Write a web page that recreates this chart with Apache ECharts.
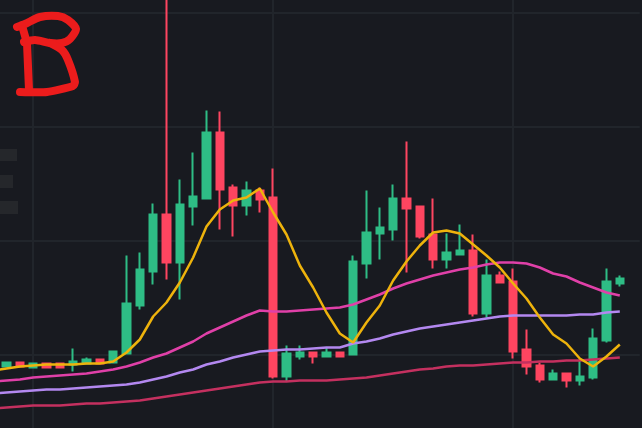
<!DOCTYPE html>
<html>
<head>
<meta charset="utf-8">
<style>
  html, body { margin: 0; padding: 0; background: #181a20; }
  #chart { width: 642px; height: 428px; }
</style>
<script src="https://cdn.jsdelivr.net/npm/echarts@6/dist/echarts.min.js"></script>
</head>
<body>
<div id="chart"></div>
<script>
// candle values, leading null = the off-screen slot left of the crop
const opens  = [null,102,106,101,105,105,104,105,109,106,115,163,197,254,206,262,270,336,281,263,278,271,92,112,116,112,116,114,205,235,239,270,262,234,209,214,218,155,193,187,119,103,89,95,88,91,128,185];
const closes = [null,106,102,105,101,101,107,109,105,117,165,199,254,206,264,272,336,279,263,278,269,92,115,116,112,116,112,207,236,241,270,260,232,209,216,218,155,193,186,117,102,89,95,88,92,130,187,190];
const lows   = [null,102,102,101,101,101,97,105,105,105,115,159,184,189,169,243,270,239,232,253,256,90,87,109,105,112,112,114,190,209,228,196,230,200,200,213,152,151,185,110,94,86,88,81,83,89,126,182];
const highs  = [null,107,107,105,106,105,120,111,109,118,213,216,265,480,289,316,358,357,284,287,281,300,123,123,117,121,117,213,278,261,284,327,262,270,235,244,234,209,197,200,139,106,99,96,109,140,200,193];

// moving averages
const maFast  = [98,100,102,103,104,104,104,105,105,107,116,129,152,166,186,211,242,259,268,271,280,256,234,203,181,156,135,126,146,163,188,207,223,236,238,235,224,213,201,185,170,151,134,125,110,102,112,124];
const maMid   = [87,88,89,91,92,93,94,95,97,99,102,106,111,115,121,127,135,141,147,153,158,157,157,158,159,160,161,164,169,174,180,185,189,193,196,199,201,204,206,206,205,201,195,192,186,181,176,173];
const maSlow  = [75,76,77,78,79,79,80,81,82,83,84,86,89,92,96,99,104,107,111,114,117,118,119,119,120,121,121,125,127,130,134,137,140,142,144,146,148,150,152,153,153,153,153,153,154,154,156,157];
const maLong  = [60,61,62,63,63,63,64,65,65,66,67,68,70,72,74,76,78,80,82,84,86,87,87,88,88,88,89,90,91,93,95,97,99,100,102,103,103,104,105,106,106,107,107,108,108,109,110,111];

const categories = opens.map((_, i) => String(i)).concat(['']);
const gridSlots = ['3', '21', '39'];

const UP = '#2ebd85';
const DOWN = '#fe4560';
const GRID = '#21252b';

const chart = echarts.init(document.getElementById('chart'), null, { renderer: 'canvas' });

function maSeries(name, data, color) {
    return {
        name, type: 'line', data, color,
        showSymbol: false, symbol: 'none', smooth: false,
        lineStyle: { width: 2.5, color }, z: 3, animation: false
    };
}

// hand drawn B on top of the chart
const redStroke = { stroke: '#ec1c1c', lineWidth: 8, fill: null, lineCap: 'round', lineJoin: 'round' };

chart.setOption({
    backgroundColor: '#181a20',
    animation: false,
    grid: { left: -13.5, right: 2.2, top: -101.5, bottom: -40.5, outerBoundsMode: 'none' },
    xAxis: {
        type: 'category',
        data: categories,
        axisLine: { show: false },
        axisTick: { show: false },
        axisLabel: { show: false },
        splitLine: {
            show: true,
            alignWithLabel: true,
            interval: (i, v) => gridSlots.includes(v),
            lineStyle: { color: GRID, width: 2 }
        }
    },
    yAxis: {
        type: 'value',
        min: 0, max: 570, interval: 114,
        axisLine: { show: false },
        axisTick: { show: false },
        axisLabel: { show: false },
        splitLine: { show: true, lineStyle: { color: GRID, width: 2 } }
    },
    series: [
        {
            type: 'candlestick',
            barWidth: 8,
            data: opens.map((o, i) => o === null ? ['-', '-', '-', '-'] : [o, closes[i], lows[i], highs[i]]),
            itemStyle: { color: UP, color0: DOWN, borderColor: UP, borderColor0: DOWN, borderWidth: 2 },
            z: 2
        },
        maSeries('MA99', maLong, '#c4305f'),
        maSeries('MA25b', maSlow, '#b388f0'),
        maSeries('MA25', maMid, '#e040a8'),
        maSeries('MA7', maFast, '#eeb30c')
    ],
    graphic: [
        { type: 'rect', shape: { x: 0, y: 149, width: 17, height: 12 }, style: { fill: '#25272b' } },
        { type: 'rect', shape: { x: 0, y: 175, width: 13, height: 13 }, style: { fill: '#25272b' } },
        { type: 'rect', shape: { x: 0, y: 201, width: 18, height: 13 }, style: { fill: '#25272b' } },
        {
            type: 'polyline', z: 20,
            shape: { smooth: 0.25, points: [[17,27],[25,24],[40,17],[58,16],[68,20],[76,29],[70,39],[62,43],[50,43],[35,40],[24,42]] },
            style: redStroke
        },
        {
            type: 'polyline', z: 20,
            shape: { points: [[23,29],[27,43],[29,90]] },
            style: redStroke
        },
        {
            type: 'polyline', z: 20,
            shape: { smooth: 0.2, points: [[20,92],[47,92],[73,86],[75,82],[68,60],[62,50],[50,43]] },
            style: redStroke
        }
    ]
});
</script>
</body>
</html>
